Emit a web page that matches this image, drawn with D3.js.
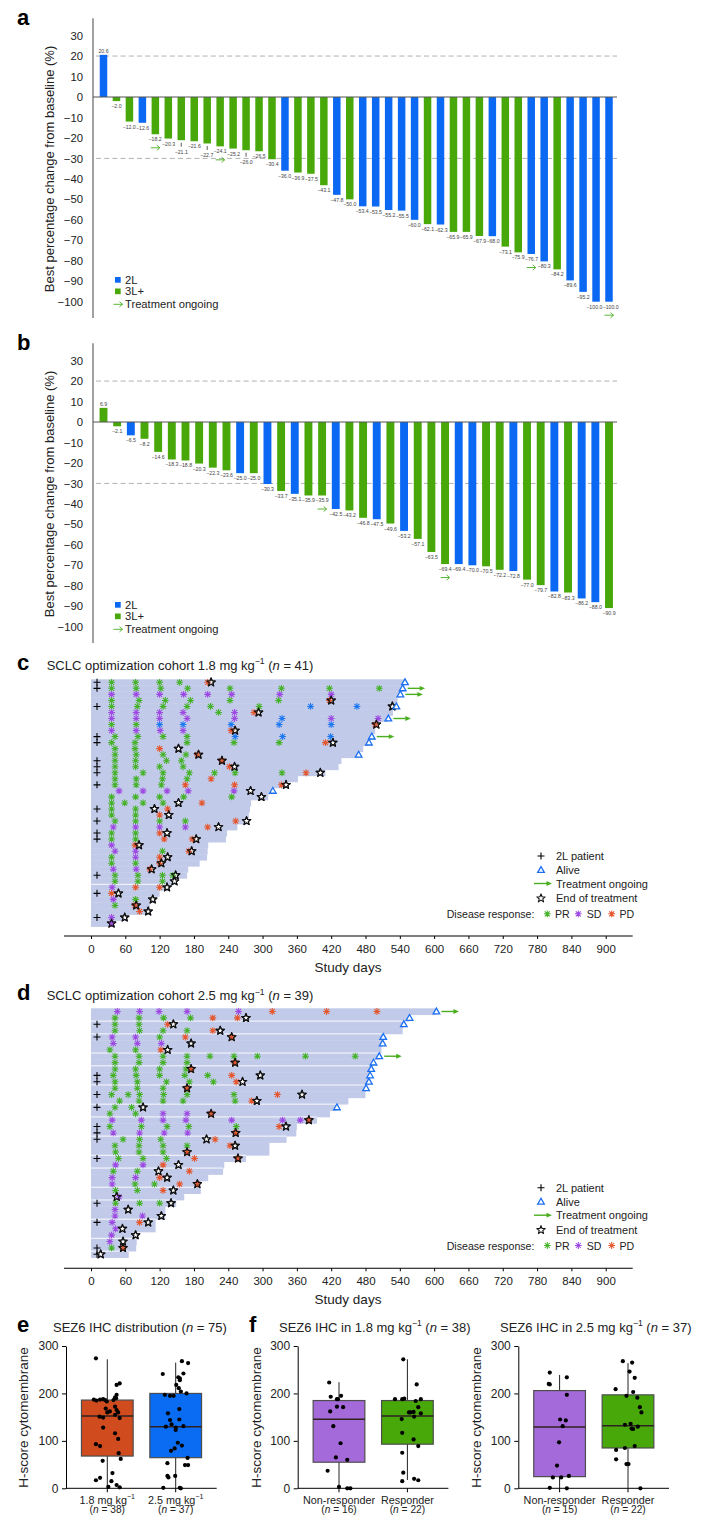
<!DOCTYPE html>
<html>
<head>
<meta charset="utf-8">
<script src="https://cdn.jsdelivr.net/npm/d3@7"></script>
<style>
  body { margin: 0; background: #fff; }
  svg { display: block; }
</style>
</head>
<body>
<svg id="fig" width="702" height="1516"></svg>
<script>
// ---------- Panel a: best % change, 1.8 mg/kg ----------
const aValues = [20.6, -2.0, -12.0, -12.6, -18.2, -20.3, -21.1, -21.6, -22.7, -24.1, -25.2, -26.0, -26.5, -30.4,
  -36.0, -36.9, -37.5, -43.1, -47.8, -50.0, -53.4, -53.5, -55.2, -55.5, -60.0, -62.1, -62.3, -65.9, -65.9, -67.9,
  -68.0, -73.1, -75.9, -76.7, -80.3, -84.2, -89.6, -95.2, -100.0, -100.0];
const aLine = ["2L","3L+","3L+","2L","3L+","3L+","3L+","3L+","3L+","3L+","3L+","3L+","3L+","3L+","2L","3L+","3L+","3L+","2L","3L+",
  "2L","2L","2L","2L","2L","3L+","2L","3L+","3L+","3L+","2L","3L+","3L+","2L","2L","3L+","2L","2L","2L","2L"];
const aOngoing = [4, 9, 33, 39];
const aLeader = [6, 8, 11];

// ---------- Panel b: best % change, 2.5 mg/kg ----------
const bValues = [6.9, -2.1, -6.5, -8.2, -14.6, -18.3, -18.8, -20.3, -22.3, -23.6, -25.0, -25.0, -30.3, -33.7, -35.1,
  -35.9, -35.9, -42.5, -43.2, -46.8, -47.5, -49.6, -53.2, -57.1, -63.5, -69.4, -69.4, -70.0, -70.5, -72.2, -72.8,
  -77.0, -79.7, -82.8, -83.3, -86.2, -88.0, -90.9];
const bLine = ["3L+","3L+","2L","3L+","3L+","3L+","3L+","3L+","3L+","3L+","2L","3L+","2L","3L+","2L","3L+","3L+","2L","3L+","3L+",
  "2L","3L+","2L","3L+","3L+","3L+","2L","2L","3L+","3L+","2L","3L+","3L+","2L","3L+","2L","2L","3L+"];
const bOngoing = [16, 25];
const bLeader = [];

const yTicksWaterfall = [30, 20, 10, 0, -10, -20, -30, -40, -50, -60, -70, -80, -90, -100];

// ---------- Panel c: swimmer, 1.8 mg/kg (n = 41) ----------
const cDuration = [549,545,541,536,534,528,520,500,497,491,486,476,468,438,433,410,362,345,318,310,280,278,276,274,
  256,238,236,205,204,203,190,170,168,150,135,120,112,103,102,62,40];
const cEnd = [210,null,null,420,527,293,null,499,252,null,423,153,188,229,251,401,null,341,279,298,153,111,136,272,
  223,133,184,84,176,134,123,106,148,146,133,48,108,79,100,59,36];
const c2L = [0,1,4,9,10,13,14,15,17,21,23,25,26,32,35,39];
const cAlive = [0,1,2,4,6,9,10,12,18];
const cOngoing = [1,2,6,9];
const cResponses = [
  "PR36 PR78 PR120 PR155 PD204",
  "PR36 PR79 PR122 PR169 PR243 PR333 PR417 PR504",
  "SD36 SD79 SD120 SD162 SD204 SD246 SD330 SD420",
  "PR36 PR84 PR130 PR174 PR243 PR328 PD417",
  "PR36 PR81 PR126 PR168 PR209 PR294 CR384 CR465",
  "SD36 SD79 SD120 SD161 PR223 SD251 PD285",
  "SD36 SD79 SD120 SD168 SD251 CR334 SD420 SD502",
  "PR36 PR79 CR120 CR161 CR245 CR329 CR420 PD497",
  "SD36 SD79 SD121 SD161 PD245",
  "PR42 PR82 PR126 PR168 CR252 CR335 CR419",
  "PR36 PR77 PR168 PR250 PR329 PD410",
  "PR42 PR77 PD120",
  "PR42 PR79 PR126 PR166 PD186",
  "PR42 PR78 PR132 PR158 PD229",
  "PR42 PR78 PR120 PR161 PD242",
  "PR42 PR91 PR126 PR172 PR216 PR252 PR334 PD376",
  "PR42 PR79 PR125 PR168 PD210",
  "PR42 PR79 PR123 PD165 PD251 PD333",
  "SD49 SD91 SD133 SD170 SD250",
  "PR36 PR78 PR120 PR162 PR246",
  "PR36 PR59 PR91 PR126 PD194",
  "PR36 PR78 PD134",
  "PR36 PR78 PD120",
  "PR42 PR78 PR120 PR165 PD253",
  "SD39 SD78 SD120 SD165 PD204",
  "PR36 PR78 PD120",
  "PR36 PR78 PD128 PD177",
  "SD36 PD77",
  "SD42 SD78 PR125 PD171",
  "PR36 SD78 PD120",
  "PR36 PR78 PD120",
  "SD39 SD79 PD103",
  "PR42 PR82 PR125 PR143",
  "PR42 PR82 PR125",
  "SD37 PD78 PD120",
  "PD36",
  "SD39 PR78",
  "PR42 PD77",
  "PD85",
  "SD36",
  "SD36"
];
const cGaps = [34];

// ---------- Panel d: swimmer, 2.5 mg/kg (n = 39) ----------
const dDuration = [604,557,547,545,511,510,508,504,494,490,488,486,481,480,450,430,418,395,360,359,342,312,312,271,
  233,231,205,192,192,163,149,130,130,113,113,80,80,79,66];
const dEnd = [null,271,144,226,246,175,134,null,252,175,296,265,168,369,290,91,210,381,341,253,202,252,168,257,153,
  118,133,186,144,45,140,65,123,100,55,78,56,56,17];
const d2L = [2,4,10,11,13,15,18,19,20,23,30,33,37,38];
const dAlive = [0,1,2,4,5,7,8,9,10,11,12,15];
const dOngoing = [0,7];
const dResponses = [
  "SD46 SD85 SD119 SD168 SD258 PD317 PD412 PD500",
  "PR42 PR84 PR127 PR174 PD213 PD256",
  "PR42 PR84 PD134",
  "PR42 PR85 PR126 PR168 PD213",
  "SD37 SD78 PR120 PD165 PD246",
  "SD39 SD81 SD123",
  "PR33 PR78 PD122",
  "PR42 PR84 PR126 PR168 PR208 PR250 PR291 PR375 PR462",
  "PR42 PR84 PR126 PR168 PD251",
  "PR42 PR78 PR120 PR166 PD175",
  "PR39 PR79 PR120 PR164 PR204 PD246",
  "PR42 PR81 PR132 PR172 PR214 PD254",
  "PR42 PR81 PR126 PD168",
  "PR36 PR65 PR85 PR127 PR168 PR250 PD326",
  "PR50 PR84 PR126 PR161 PR252 PD281",
  "PR42 PR71",
  "PR33 PR78 SD126 SD168 PD210",
  "SD37 SD88 SD126 SD166 SD246 SD335 SD366 PD381",
  "PR33 PR88 PR133 PR171 PR254 PD329",
  "SD39 SD85 SD128 SD169 PD253",
  "PR56 PR85 PR122 PD217",
  "PR42 PR84 PR126 PR168 PD243",
  "PR43 PR84 PR126 PD168",
  "PR48 PR91 PR132 PD181 PD257",
  "SD43 SD91 PD126",
  "PR39 PR81 PD172",
  "SD37 SD78 PD120",
  "SD37 PR77 PR111 PD155 PD186",
  "PR43 PR81 PD126",
  "SD49",
  "PR43 PR85 PR120",
  "SD42",
  "SD42 SD90",
  "SD37 PD85",
  "SD43",
  "SD36",
  "SD33",
  "PR36 PD56",
  ""
];
const dGaps = [2,4,7,9,12,15,17,20,23,25,28,30,33,36,38];
const studyDayTicks = [0,60,120,180,240,300,360,420,480,540,600,660,720,780,840,900];

// ---------- Panel e: SEZ6 H-score by dose ----------
const eGroups = ["1.8", "2.5"];
const eN = [38, 37];
const eStats = [[0, 68, 152.5, 186, 272], [0, 64.6, 130, 200, 265]]; // low whisker, Q1, median, Q3, high whisker
const eScores18 = [274,221,218,197,192,187,187,188,186,183,168,172,165,160,160,155,148,149,128,116,104,93,89,74,62,58,32,22,17,15,7,2,162,186,151,3,185,190];
const eJitter18 = [-22,24,18,18,15,-26,-14,-8,-4,-1,-3,15,18,21,0,15,24,-8,-8,15,21,-22,-14,22,26,-9,10,-14,-22,8,18,24,5,12,-15,2,-21,17];
const eScores25 = [268,264,241,242,234,232,218,211,204,197,195,195,167,158,144,145,131,130,128,123,96,90,84,79,64,53,49,49,26,23,26,1,1,0,228,200,135];
const eJitter25 = [12,24,-25,15,5,8,1,6,10,-21,-11,-4,7,-15,-11,7,15,-19,0,0,4,12,-2,-9,23,-16,18,24,-16,-14,-1,-24,8,10,8,21,-8];

// ---------- Panel f: SEZ6 H-score by response ----------
const fGroups = ["Non-responder", "Responder"];
const f18N = [16, 22];
const f18Stats = [[0, 55, 145.5, 185, 223.6], [17.5, 93, 152.5, 185, 272]];
const f18ScoresNR = [223,193,195,188,188,172,171,162,131,95,65,60,37,3,0,0];
const f18JitterNR = [-19,-16,4,-4,-2,-4,8,-17,-11,3,-6,16,-22,0,16,22];
const f18ScoresR = [272,219,188,188,189,188,184,160,171,161,158,151,146,117,103,89,75,33,20,15,17,160];
const f18JitterR = [-8,18,-24,-10,-6,26,16,3,21,12,26,13,-11,-10,12,21,-10,-8,13,-10,21,6];
const f25N = [15, 22];
const f25Stats = [[0, 24.6, 129, 206, 239], [0, 85, 132, 197, 264]];
const f25ScoresNR = [244,220,219,234,197,145,143,131,97,48,23,23,26,1,0];
const f25JitterNR = [-19,-21,-19,14,14,1,12,6,-1,-5,-13,3,18,-19,14];
const f25ScoresR = [268,265,246,233,203,209,195,191,171,160,134,136,126,125,130,89,85,81,61,51,51,0];
const f25JitterR = [-10,8,3,13,10,-24,-3,18,23,26,-6,5,7,10,19,13,-6,-23,-23,-3,1,24];

// ================= drawing =================
const FONT = '"Liberation Sans", Arial, Helvetica, sans-serif';
const INK = "#222";
const LINE_COL = { "2L": "#0a68f2", "3L+": "#48a80a" };
const RESP_COL = { PR: "#45b22a", SD: "#9d4ae2", PD: "#e4572e", CR: "#1e78f0" };
const ARROW_GREEN = "#4aae1f";
const svg = d3.select("#fig").attr("font-family", FONT);

const minus = v => (v < 0 ? "\u2212" + Math.abs(v) : String(v));
const fmt1 = v => (v < 0 ? "\u2212" + Math.abs(v).toFixed(1) : v.toFixed(1));

function styleAxisText(sel, size) {
  sel.selectAll("text").attr("font-family", FONT).attr("font-size", size).attr("fill", INK);
}

// text with optional superscript / italic pieces
function richText(g, x, y, parts, size, anchor) {
  const t = g.append("text").attr("x", x).attr("y", y).attr("font-size", size)
    .attr("fill", INK).attr("text-anchor", anchor || "start");
  let raised = false;
  parts.forEach(p => {
    const s = t.append("tspan");
    if (typeof p === "string") {
      s.text(p);
      if (raised) { s.attr("dy", size * 0.42); raised = false; }
    } else if (p.sup) {
      s.text(p.sup).attr("font-size", size * 0.66).attr("dy", -size * 0.42);
      raised = true;
    } else if (p.i) {
      s.text(p.i).attr("font-style", "italic");
      if (raised) { s.attr("dy", size * 0.42); raised = false; }
    }
  });
  return t;
}

function openArrow(g, cx, cy, len, color) {
  const x1 = cx + len / 2;
  g.append("path")
    .attr("d", `M${cx - len / 2},${cy}H${x1}M${x1 - 3},${cy - 2.6}L${x1},${cy}L${x1 - 3},${cy + 2.6}`)
    .attr("fill", "none").attr("stroke", color).attr("stroke-width", 0.9);
}

function panelLetter(x, y, ch) {
  svg.append("text").attr("x", x).attr("y", y).attr("font-size", 22).attr("font-weight", "bold")
    .attr("fill", "#000").text(ch);
}

// push apart neighbouring value labels that sit on the same line and collide
function separateLabels(sel) {
  const items = sel.nodes().map(n => ({ n, x: +n.getAttribute("x"), y: +n.getAttribute("y"), w: n.getComputedTextLength() }));
  for (let pass = 0; pass < 3; pass++) {
    for (let i = 1; i < items.length; i++) {
      const a = items[i - 1], b = items[i];
      if (Math.abs(a.y - b.y) > 4.5) continue;
      const ov = (a.x + a.w / 2) - (b.x - b.w / 2) + 0.3;
      if (ov > 0) { a.x -= ov / 2; b.x += ov / 2; }
    }
  }
  items.forEach(it => it.n.setAttribute("x", it.x.toFixed(2)));
}

// ---- waterfall plot ----
function waterfall(cfg) {
  const g = svg.append("g");
  const y = d3.scaleLinear().domain([0, -100]).range([cfg.zeroY, cfg.zeroY + 204.7]);
  const x = d3.scalePoint().domain(d3.range(cfg.values.length)).range([103.5, 609]);

  [20, -30].forEach(v => g.append("line")
    .attr("x1", 96).attr("x2", 617).attr("y1", y(v)).attr("y2", y(v))
    .attr("stroke", "#a9a9a9").attr("stroke-width", 0.9).attr("stroke-dasharray", "5,3.2"));

  g.selectAll("rect.bar").data(cfg.values).join("rect").attr("class", "bar")
    .attr("x", (d, i) => x(i) - cfg.barW / 2).attr("width", cfg.barW)
    .attr("y", d => Math.min(y(d), y(0))).attr("height", d => Math.abs(y(d) - y(0)))
    .attr("fill", (d, i) => LINE_COL[cfg.lines[i]]);

  g.append("line").attr("x1", 93).attr("x2", 617).attr("y1", y(0)).attr("y2", y(0))
    .attr("stroke", "#555").attr("stroke-width", 1.1);

  // value labels
  const labels = g.selectAll("text.val").data(cfg.values).join("text").attr("class", "val")
    .attr("x", (d, i) => x(i))
    .attr("y", (d, i) => d >= 0 ? y(d) - 2 : y(d) + 7 + (cfg.leader.includes(i) ? 7 : 0))
    .attr("text-anchor", "middle").attr("font-size", 5.2).attr("fill", "#444")
    .text(d => fmt1(d));
  separateLabels(labels);
  cfg.leader.forEach(i => g.append("line")
    .attr("x1", x(i)).attr("x2", x(i)).attr("y1", y(cfg.values[i]) + 2.5).attr("y2", y(cfg.values[i]) + 6.5)
    .attr("stroke", "#333").attr("stroke-width", 0.8));

  cfg.ongoing.forEach(i => openArrow(g, x(i), y(cfg.values[i]) + 13.5, 9, ARROW_GREEN));

  // y axis
  const axG = g.append("g").attr("transform", "translate(93,0)")
    .call(d3.axisLeft(y).tickValues(yTicksWaterfall).tickSize(0).tickPadding(10).tickFormat(minus));
  axG.select(".domain").remove();
  styleAxisText(axG, 11.3);
  g.append("line").attr("x1", 93).attr("x2", 93).attr("y1", y(38.5)).attr("y2", y(-108))
    .attr("stroke", "#555").attr("stroke-width", 1.1);

  g.append("text").attr("transform", `translate(49.5,${cfg.titleY}) rotate(-90)`)
    .attr("text-anchor", "middle").attr("dy", "0.35em").attr("font-size", 13).attr("fill", INK)
    .text("Best percentage change from baseline (%)");

  // legend
  const L = cfg.zeroY;
  g.append("rect").attr("x", 115).attr("y", L + 180).attr("width", 5.7).attr("height", 5.7).attr("fill", LINE_COL["2L"]);
  g.append("text").attr("x", 125).attr("y", L + 186.5).attr("font-size", 11.2).attr("fill", INK).text("2L");
  g.append("rect").attr("x", 115).attr("y", L + 191.5).attr("width", 5.7).attr("height", 5.7).attr("fill", LINE_COL["3L+"]);
  g.append("text").attr("x", 125).attr("y", L + 198).attr("font-size", 11.2).attr("fill", INK).text("3L+");
  openArrow(g, 118, L + 207.3, 9, ARROW_GREEN);
  g.append("text").attr("x", 125).attr("y", L + 211).attr("font-size", 11.2).attr("fill", INK).text("Treatment ongoing");
}

// ---- swimmer plot symbols ----
const asteriskPath = (() => {
  const r = 3.4, a = 2.5;
  return `M0,${-r}V${r}M${-r},0H${r}M${-a},${-a}L${a},${a}M${-a},${a}L${a},${-a}`;
})();
const starPath = (() => {
  const pts = [];
  for (let k = 0; k < 10; k++) {
    const ang = -Math.PI / 2 + k * Math.PI / 5;
    const rr = k % 2 ? 1.85 : 4.4;
    pts.push([rr * Math.cos(ang), rr * Math.sin(ang)]);
  }
  return "M" + pts.map(p => p[0].toFixed(2) + "," + p[1].toFixed(2)).join("L") + "Z";
})();
const trianglePath = "M0,-3.4L3.3,2.4L-3.3,2.4Z";
const plusPath = "M-3.5,0H3.5M0,-3.5V3.5";

function drawAsterisk(g, x, y, code) {
  g.append("path").attr("transform", `translate(${x},${y})`).attr("d", asteriskPath)
    .attr("fill", "none").attr("stroke", RESP_COL[code]).attr("stroke-width", 1.05);
}
function drawStar(g, x, y, fill) {
  g.append("path").attr("transform", `translate(${x},${y})`).attr("d", starPath)
    .attr("fill", fill).attr("stroke", "#111").attr("stroke-width", 1.1).attr("stroke-linejoin", "round");
}
function drawTriangle(g, x, y) {
  g.append("path").attr("transform", `translate(${x},${y})`).attr("d", trianglePath)
    .attr("fill", "#fff").attr("stroke", "#1a6ff2").attr("stroke-width", 1.3);
}
function drawPlus(g, x, y) {
  g.append("path").attr("transform", `translate(${x},${y})`).attr("d", plusPath)
    .attr("fill", "none").attr("stroke", "#000").attr("stroke-width", 1.1);
}
function filledArrow(g, x0, x1, y) {
  g.append("line").attr("x1", x0).attr("x2", x1 - 4).attr("y1", y).attr("y2", y)
    .attr("stroke", ARROW_GREEN).attr("stroke-width", 1.4);
  g.append("path").attr("d", `M${x1 - 5.5},${y - 2.4}L${x1},${y}L${x1 - 5.5},${y + 2.4}Z`).attr("fill", ARROW_GREEN);
}

function parseResponses(s) {
  return s.split(" ").filter(Boolean).map(t => ({ code: t.slice(0, 2), day: +t.slice(2) }));
}

function swimmer(cfg) {
  const g = svg.append("g");
  const n = cfg.duration.length;
  const x = d3.scaleLinear().domain([0, 900]).range([91, 605.7]);
  const y = d3.scaleBand().domain(d3.range(n)).range([cfg.top, cfg.top + n * cfg.rowH]);
  const cy = i => y(i) + y.bandwidth() / 2;

  g.selectAll("rect.row").data(cfg.duration).join("rect").attr("class", "row")
    .attr("x", x(0)).attr("y", (d, i) => y(i))
    .attr("width", d => x(d) - x(0)).attr("height", y.bandwidth() + 0.4)
    .attr("fill", "#c2cae9");
  cfg.gaps.forEach(k => {
    const w = Math.min(cfg.duration[k - 1], cfg.duration[k]);
    g.append("line").attr("x1", x(0)).attr("x2", x(w)).attr("y1", y(k)).attr("y2", y(k))
      .attr("stroke", "#fff").attr("stroke-width", 0.9);
  });

  cfg.twoL.forEach(i => drawPlus(g, x(0) + 6, cy(i)));

  // end-of-treatment star bodies, then assessments, then star outlines on top
  cfg.end.forEach((d, i) => { if (d != null) drawStar(g, x(d), cy(i), "#fff"); });
  cfg.responses.forEach((s, i) => parseResponses(s).forEach(r => drawAsterisk(g, x(r.day), cy(i), r.code)));
  cfg.end.forEach((d, i) => { if (d != null) drawStar(g, x(d), cy(i), "none"); });

  cfg.alive.forEach(i => drawTriangle(g, x(cfg.duration[i]), cy(i)));
  cfg.ongoing.forEach(i => filledArrow(g, x(cfg.duration[i]) + 5, x(cfg.duration[i]) + 22.5, cy(i)));

  // axis
  const axG = g.append("g").attr("transform", `translate(0,${cfg.axisY})`)
    .call(d3.axisBottom(x).tickValues(studyDayTicks).tickSize(3).tickPadding(6).tickSizeOuter(0));
  axG.select(".domain").remove();
  axG.selectAll("line").attr("stroke", "#000");
  styleAxisText(axG, 11.5);
  g.append("line").attr("x1", 64).attr("x2", 632.7).attr("y1", cfg.axisY).attr("y2", cfg.axisY)
    .attr("stroke", "#000").attr("stroke-width", 1.1);
  g.append("text").attr("x", 348).attr("y", cfg.axisY + 35.5).attr("text-anchor", "middle")
    .attr("font-size", 13.5).attr("fill", INK).text("Study days");

  // title
  richText(g, 46.7, cfg.titleY, [`SCLC optimization cohort ${cfg.dose} mg kg`, { sup: "\u22121" }, " (", { i: "n" }, ` = ${n})`], 13);

  // legend
  const L = cfg.legendY, lx = 541, tx = 556, fs = 11;
  drawPlus(g, lx, L);
  g.append("text").attr("x", tx).attr("y", L + 4).attr("font-size", fs).attr("fill", INK).text("2L patient");
  drawTriangle(g, lx, L + 14);
  g.append("text").attr("x", tx).attr("y", L + 18).attr("font-size", fs).attr("fill", INK).text("Alive");
  filledArrow(g, 534, 552, L + 27.5);
  g.append("text").attr("x", tx).attr("y", L + 31.5).attr("font-size", fs).attr("fill", INK).text("Treatment ongoing");
  drawStar(g, lx, L + 42.3, "#fff");
  g.append("text").attr("x", tx).attr("y", L + 46.3).attr("font-size", fs).attr("fill", INK).text("End of treatment");
  const ry = L + 57.8;
  g.append("text").attr("x", 446.7).attr("y", ry + 4).attr("font-size", 10.6).attr("fill", INK).text("Disease response:");
  [["PR", 547.3, 555], ["SD", 578.3, 586.7], ["PD", 611.7, 619.5]].forEach(([c, sx, lx2]) => {
    drawAsterisk(g, sx, ry, c);
    g.append("text").attr("x", lx2).attr("y", ry + 4).attr("font-size", 10.6).attr("fill", INK).text(c);
  });
}

// ---- box plots ----
function boxPanel(cfg) {
  const g = svg.append("g");
  const y = d3.scaleLinear().domain([0, 300]).range([1488.3, 1346]);
  const x = d3.scalePoint().domain(d3.range(cfg.stats.length)).range([cfg.axisX + 41.3, cfg.axisX + 109.7]);
  const bw = 51.7;

  const axG = g.append("g").attr("transform", `translate(${cfg.axisX},0)`)
    .call(d3.axisLeft(y).tickValues([0, 100, 200, 300]).tickSize(4).tickPadding(3.5).tickSizeOuter(0));
  axG.selectAll("path,line").attr("stroke", "#000");
  styleAxisText(axG, 12);
  g.append("line").attr("x1", cfg.axisX).attr("x2", cfg.axisX + 150.7).attr("y1", y(0)).attr("y2", y(0))
    .attr("stroke", "#000").attr("stroke-width", 1);
  cfg.stats.forEach((s, i) => g.append("line").attr("x1", x(i)).attr("x2", x(i))
    .attr("y1", y(0)).attr("y2", y(0) + 4).attr("stroke", "#000"));

  cfg.stats.forEach((s, i) => {
    const [lo, q1, med, q3, hi] = s;
    g.append("line").attr("x1", x(i)).attr("x2", x(i)).attr("y1", y(hi)).attr("y2", y(lo))
      .attr("stroke", "#222").attr("stroke-width", 1);
    g.append("rect").attr("x", x(i) - bw / 2).attr("width", bw).attr("y", y(q3)).attr("height", y(q1) - y(q3))
      .attr("fill", cfg.colors[i]).attr("stroke", "#4d4d4d").attr("stroke-width", 1.2);
    g.append("line").attr("x1", x(i) - bw / 2).attr("x2", x(i) + bw / 2).attr("y1", y(med)).attr("y2", y(med))
      .attr("stroke", "#2e2222").attr("stroke-width", 1.5);
  });

  cfg.points.forEach((pts, i) => {
    g.selectAll(null).data(pts).join("circle")
      .attr("cx", (d, k) => x(i) + cfg.jitter[i][k] / 100 * bw)
      .attr("cy", d => y(d)).attr("r", 2.1).attr("fill", "#000");
  });

  cfg.labels.forEach((lab, i) => {
    richText(g, x(i), 1503.5, lab, 10.8, "middle");
    richText(g, x(i), 1513.3, ["(", { i: "n" }, ` = ${cfg.n[i]})`], 10.2, "middle");
  });

  g.append("text").attr("transform", `translate(${cfg.ylabX},1417.5) rotate(-90)`)
    .attr("text-anchor", "middle").attr("dy", "0.35em").attr("font-size", 13.5).attr("fill", INK)
    .text("H-score cytomembrane");
  richText(g, cfg.titleX, 1331.5, cfg.title, 13);
}

// ---------- compose ----------
panelLetter(17, 25, "a");
waterfall({ values: aValues, lines: aLine, ongoing: aOngoing, leader: aLeader, zeroY: 97, barW: 7.5, titleY: 169 });
panelLetter(17, 350, "b");
waterfall({ values: bValues, lines: bLine, ongoing: bOngoing, leader: bLeader, zeroY: 422, barW: 7.9, titleY: 494 });

panelLetter(17, 669.5, "c");
swimmer({ duration: cDuration, end: cEnd, twoL: c2L, alive: cAlive, ongoing: cOngoing, responses: cResponses,
  gaps: cGaps, top: 679.3, rowH: 6.03, axisY: 936, titleY: 669.5, dose: "1.8", legendY: 856 });
panelLetter(17, 1000, "d");
swimmer({ duration: dDuration, end: dEnd, twoL: d2L, alive: dAlive, ongoing: dOngoing, responses: dResponses,
  gaps: dGaps, top: 1008.3, rowH: 6.39, axisY: 1268.3, titleY: 1000, dose: "2.5", legendY: 1187.7 });

panelLetter(17, 1332, "e");
boxPanel({ axisX: 66, stats: eStats, points: [eScores18, eScores25], jitter: [eJitter18, eJitter25],
  colors: ["#d04b1e", "#0a6cf2"], n: eN, ylabX: 23.3, titleX: 53,
  labels: eGroups.map(d => [`${d} mg kg`, { sup: "\u22121" }]),
  title: ["SEZ6 IHC distribution (", { i: "n" }, " = 75)"] });
panelLetter(249, 1332, "f");
boxPanel({ axisX: 297.7, stats: f18Stats, points: [f18ScoresNR, f18ScoresR], jitter: [f18JitterNR, f18JitterR],
  colors: ["#a56ad9", "#48a80a"], n: f18N, ylabX: 256.7, titleX: 279,
  labels: fGroups.map(d => [d]),
  title: ["SEZ6 IHC in 1.8 mg kg", { sup: "\u22121" }, " (", { i: "n" }, " = 38)"] });
boxPanel({ axisX: 518.3, stats: f25Stats, points: [f25ScoresNR, f25ScoresR], jitter: [f25JitterNR, f25JitterR],
  colors: ["#a56ad9", "#48a80a"], n: f25N, ylabX: 476.7, titleX: 500,
  labels: fGroups.map(d => [d]),
  title: ["SEZ6 IHC in 2.5 mg kg", { sup: "\u22121" }, " (", { i: "n" }, " = 37)"] });
</script>
</body>
</html>
